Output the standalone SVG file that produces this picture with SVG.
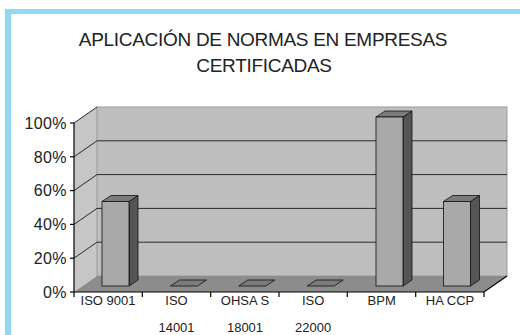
<svg xmlns="http://www.w3.org/2000/svg" width="520" height="335" viewBox="0 0 520 335">
<style>
text{font-family:"Liberation Sans",Arial,sans-serif;fill:#222}
.title{font-size:19px;text-anchor:middle;letter-spacing:-0.3px}
.yl{font-size:16px;text-anchor:end;letter-spacing:0.4px}
.xl{font-size:13px;text-anchor:middle}
.grid{stroke:#2a2a2a;stroke-width:1;fill:none}
.ax{stroke:#000;stroke-width:1.2;fill:none}
.front{fill:#a9a9a9;stroke:#111;stroke-width:0.8}
.side{fill:#555;stroke:#111;stroke-width:0.8}
.top{fill:#7b7b7b;stroke:#111;stroke-width:0.8}
</style>
<rect width="520" height="335" fill="#fff"/>
<g id="border" fill="#90d8f4">
<rect x="5" y="9" width="515" height="5"/>
<rect x="5" y="9" width="6" height="326"/>
</g>
<g id="title">
<text class="title" x="263" y="46">APLICACIÓN DE NORMAS EN EMPRESAS</text>
<text class="title" x="264" y="72">CERTIFICADAS</text>
</g>
<g id="plot">
<polygon points="74,123 97,107 97,276 74,292" fill="#c6c6c6"/>
<rect x="97" y="107" width="410" height="169" fill="#bebebe" stroke="#9a9a9a" stroke-width="1"/>
<polygon points="74,292 484,292 507,276 97,276" fill="#8c8c8c"/>
<g class="grid">
<polyline points="74,258.2 97,242.2 507,242.2"/>
<polyline points="74,224.4 97,208.4 507,208.4"/>
<polyline points="74,190.6 97,174.6 507,174.6"/>
<polyline points="74,156.8 97,140.8 507,140.8"/>
<polyline points="74,123 97,107"/>
</g>
<g class="ax">
<line x1="74" y1="123" x2="74" y2="292"/>
<polyline points="74,292 484,292 507,276"/>
<line x1="70" y1="123" x2="74" y2="123"/>
<line x1="70" y1="156.8" x2="74" y2="156.8"/>
<line x1="70" y1="190.6" x2="74" y2="190.6"/>
<line x1="70" y1="224.4" x2="74" y2="224.4"/>
<line x1="70" y1="258.2" x2="74" y2="258.2"/>
<line x1="70" y1="292" x2="74" y2="292"/>
<line x1="74" y1="292" x2="74" y2="297"/>
<line x1="142.3" y1="292" x2="142.3" y2="297"/>
<line x1="210.7" y1="292" x2="210.7" y2="297"/>
<line x1="279" y1="292" x2="279" y2="297"/>
<line x1="347.3" y1="292" x2="347.3" y2="297"/>
<line x1="415.7" y1="292" x2="415.7" y2="297"/>
<line x1="484" y1="292" x2="484" y2="297"/>
</g>
</g>
<g id="ylabels">
<text class="yl" x="67" y="129">100%</text>
<text class="yl" x="67" y="162.5">80%</text>
<text class="yl" x="67" y="196.3">60%</text>
<text class="yl" x="67" y="230">40%</text>
<text class="yl" x="67" y="263.8">20%</text>
<text class="yl" x="67" y="297.5">0%</text>
</g>
<g id="bar-iso9001">
<polygon class="side" points="129,201.5 138,195.5 138,280 129,286"/>
<polygon class="top" points="102,201.5 129,201.5 138,195.5 111,195.5"/>
<rect class="front" x="102" y="201.5" width="27" height="84.5"/>
</g>
<g id="bar-iso14001">
<polygon class="top" points="170.5,286 197.5,286 206.5,280 179.5,280"/>
</g>
<g id="bar-ohsas18001">
<polygon class="top" points="238.8,286 265.8,286 274.8,280 247.8,280"/>
</g>
<g id="bar-iso22000">
<polygon class="top" points="307.2,286 334.2,286 343.2,280 316.2,280"/>
</g>
<g id="bar-bpm">
<polygon class="side" points="403,117 412,111 412,280 403,286"/>
<polygon class="top" points="376,117 403,117 412,111 385,111"/>
<rect class="front" x="376" y="117" width="27" height="169"/>
</g>
<g id="bar-haccp">
<polygon class="side" points="470.5,201.5 479.5,195.5 479.5,280 470.5,286"/>
<polygon class="top" points="443.5,201.5 470.5,201.5 479.5,195.5 452.5,195.5"/>
<rect class="front" x="443.5" y="201.5" width="27" height="84.5"/>
</g>
<g id="xlabels">
<text class="xl" x="108" y="305">ISO 9001</text>
<text class="xl" x="176.5" y="305">ISO</text>
<text class="xl" x="176.5" y="332">14001</text>
<text class="xl" x="245" y="305">OHSA S</text>
<text class="xl" x="245" y="332">18001</text>
<text class="xl" x="313.2" y="305">ISO</text>
<text class="xl" x="313.2" y="332">22000</text>
<text class="xl" x="381.7" y="305">BPM</text>
<text class="xl" x="450" y="305">HA CCP</text>
</g>
</svg>
